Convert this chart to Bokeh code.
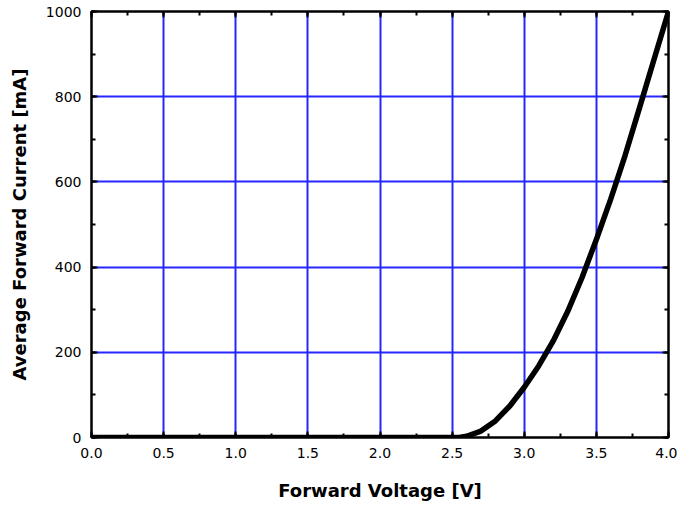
from bokeh.plotting import figure
from bokeh.models import Range1d, LinearAxis, SingleIntervalTicker, NumeralTickFormatter
from bokeh.embed import file_html
from bokeh.resources import INLINE

# Data
voltage = [0.0, 2.5, 2.55, 2.6, 2.7, 2.8, 2.9, 3.0, 3.1, 3.2, 3.3, 3.4, 3.5, 3.6, 3.7, 3.8, 3.9, 4.0]
current = [0, 0, 0, 3, 15, 39, 74, 118, 168, 226, 295, 375, 465, 560, 663, 775, 888, 1000]

x_title = "Forward Voltage [V]"
y_title = "Average Forward Current [mA]"

TICK_FONT = "DejaVu Sans"
TITLE_FONT = "DejaVu Sans"

p = figure(
    width=677, height=506,
    frame_width=577, frame_height=426,
    min_border_left=91, min_border_right=9, min_border_top=11, min_border_bottom=69,
    x_range=Range1d(0, 4), y_range=Range1d(0, 1000),
    output_backend="svg", toolbar_location=None,
    x_axis_label=x_title, y_axis_label=y_title,
)
p.background_fill_color = "white"
p.border_fill_color = "white"
p.outline_line_color = "black"
p.outline_line_width = 2

xt = SingleIntervalTicker(interval=0.5, num_minor_ticks=2)
yt = SingleIntervalTicker(interval=200, num_minor_ticks=2)

p.xaxis.ticker = xt
p.yaxis.ticker = yt
p.xgrid.ticker = xt
p.ygrid.ticker = yt
p.xaxis.formatter = NumeralTickFormatter(format="0.0")
p.yaxis.formatter = NumeralTickFormatter(format="0")

for g in (p.xgrid, p.ygrid):
    g.grid_line_color = "#2626ff"
    g.grid_line_width = 2

for ax in (p.xaxis, p.yaxis):
    ax.axis_line_color = "black"
    ax.axis_line_width = 2
    ax.major_tick_in = 6
    ax.major_tick_out = 0
    ax.minor_tick_in = 4
    ax.minor_tick_out = 0
    ax.major_tick_line_color = "black"
    ax.major_tick_line_width = 2
    ax.minor_tick_line_color = "black"
    ax.minor_tick_line_width = 2
    ax.major_label_text_font = TICK_FONT
    ax.major_label_text_font_size = "14px"
    ax.major_label_text_color = "black"
    ax.axis_label_text_font = TITLE_FONT
    ax.axis_label_text_font_size = "18px"
    ax.axis_label_text_font_style = "bold"
    ax.axis_label_text_color = "black"

p.xaxis.major_label_standoff = 10
p.xaxis.axis_label_standoff = 19
p.yaxis.major_label_standoff = 10
p.yaxis.axis_label_standoff = 13

# Top and right axes with inward ticks only (labels not drawn)
for loc, tk in (("above", xt), ("right", yt)):
    a = LinearAxis(ticker=tk)
    a.axis_line_color = "black"
    a.axis_line_width = 2
    a.major_tick_in = 6
    a.major_tick_out = 0
    a.minor_tick_in = 4
    a.minor_tick_out = 0
    a.major_tick_line_width = 2
    a.minor_tick_line_width = 2
    a.major_label_text_font_size = "1px"
    a.major_label_text_color = None
    a.major_label_standoff = 0
    p.add_layout(a, loc)

p.line(voltage, current, line_color="black", line_width=5.5, line_join="round", line_cap="round")

open("out.html", "w").write(file_html(p, INLINE))
